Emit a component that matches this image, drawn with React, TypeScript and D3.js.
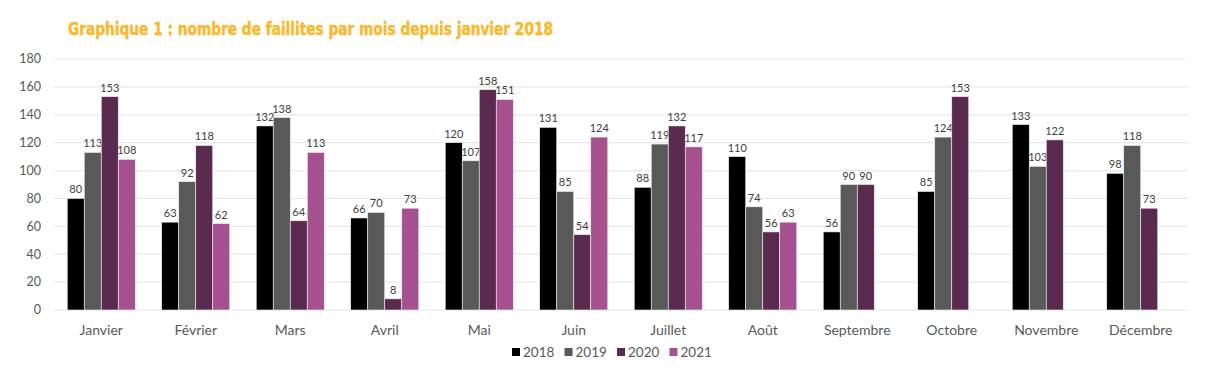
import React from "react";
import * as d3 from "d3";

const WIDTH = 1224;
const HEIGHT = 371;
const MARGIN = { top: 59, right: 36, bottom: 61, left: 54 };

const months = [
  "Janvier", "Février", "Mars", "Avril", "Mai", "Juin",
  "Juillet", "Août", "Septembre", "Octobre", "Novembre", "Décembre",
];
const years = ["2018", "2019", "2020", "2021"];

// null = pas encore de donnée
const v2018 = [80, 63, 132, 66, 120, 131, 88, 110, 56, 85, 133, 98];
const v2019 = [113, 92, 138, 70, 107, 85, 119, 74, 90, 124, 103, 118];
const v2020 = [153, 118, 64, 8, 158, 54, 132, 56, 90, 153, 122, 73];
const v2021 = [108, 62, 113, 73, 151, 124, 117, 63, null, null, null, null];

const yTicks = [0, 20, 40, 60, 80, 100, 120, 140, 160, 180];
const COLORS = ["#000000", "#595959", "#5b2a4f", "#a5508f"];

const FONT = "Lato, 'Open Sans', sans-serif";

export default function App() {
  const boundsWidth = WIDTH - MARGIN.left - MARGIN.right;
  const boundsHeight = HEIGHT - MARGIN.top - MARGIN.bottom;
  const series = [v2018, v2019, v2020, v2021];

  const xScale = d3.scaleBand().domain(months).range([0, boundsWidth]).paddingInner(0.28).paddingOuter(0.14);
  const xSub = d3.scaleBand().domain(years).range([0, xScale.bandwidth()]);
  const yScale = d3.scaleLinear().domain([0, 180]).range([boundsHeight, 0]);

  return (
    <svg width={WIDTH} height={HEIGHT} style={{ position: "absolute", left: 0, top: 0, background: "#fff" }}>
      <text
        x={68}
        y={35}
        fontFamily="'DejaVu Sans Condensed', 'DejaVu Sans', sans-serif"
        fontStretch="condensed"
        fontWeight="bold"
        fontSize={17.5}
        fill="#f8b92c"
        stroke="#f8b92c"
        strokeWidth={0.4}
        textLength={485}
        lengthAdjust="spacingAndGlyphs"
      >
        Graphique 1 : nombre de faillites par mois depuis janvier 2018
      </text>
      <g transform={`translate(${MARGIN.left},${MARGIN.top})`}>
        {yTicks.map((t) => (
          <g key={t}>
            <line x1={0} x2={boundsWidth} y1={yScale(t)} y2={yScale(t)} stroke="#e8e8e8" strokeWidth={1.2} />
            <text x={-13} y={yScale(t)} dy="0.35em" textAnchor="end" fontFamily={FONT} fontSize={12.5} fill="#595959">
              {t}
            </text>
          </g>
        ))}
        {months.map((m, i) => (
          <g key={m} transform={`translate(${xScale(m)},0)`}>
            {series.map((s, j) => {
              const v = s[i];
              if (v === null) return null;
              const x = xSub(years[j]) as number;
              return (
                <g key={j}>
                  <rect
                    x={x}
                    y={yScale(v)}
                    width={xSub.bandwidth()}
                    height={boundsHeight - yScale(v)}
                    fill={COLORS[j]}
                    stroke="#f2f2f2"
                    strokeWidth={0.6}
                  />
                  <text
                    x={x + xSub.bandwidth() / 2}
                    y={yScale(v) - 5}
                    textAnchor="middle"
                    fontFamily={FONT}
                    fontSize={11}
                    fill="#404040"
                  >
                    {v}
                  </text>
                </g>
              );
            })}
            <text
              x={xScale.bandwidth() / 2}
              y={boundsHeight + 25}
              textAnchor="middle"
              fontFamily={FONT}
              fontSize={14}
              fill="#595959"
            >
              {m}
            </text>
          </g>
        ))}
      </g>
      <g transform="translate(512,352)">
        {years.map((y, j) => (
          <g key={y} transform={`translate(${j * 52.5},0)`}>
            <rect x={0} y={-4} width={8} height={8} fill={COLORS[j]} />
            <text x={11} y={0} dy="0.36em" fontFamily={FONT} fontSize={13.5} fill="#595959">
              {y}
            </text>
          </g>
        ))}
      </g>
    </svg>
  );
}
